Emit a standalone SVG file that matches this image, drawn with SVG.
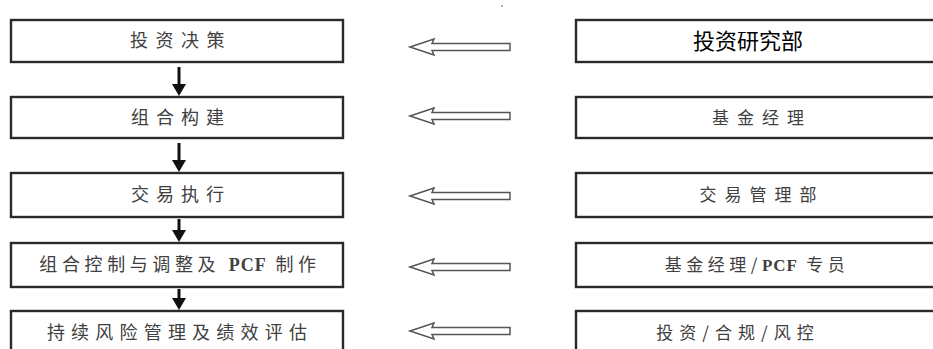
<svg xmlns="http://www.w3.org/2000/svg" width="933" height="349" viewBox="0 0 933 349">
<style>
.box{fill:#fff;stroke:#2a2a2a;stroke-width:2.4}
.lt{font-family:"Noto Sans CJK SC","Noto Sans",sans-serif;font-size:18px;fill:#404040;text-anchor:middle}
.rt{font-family:"Noto Sans CJK SC","Noto Sans",sans-serif;font-size:17px;fill:#404040;text-anchor:middle}
.big{font-size:22px;fill:#000}
.lat{font-family:"Liberation Serif",serif;font-weight:bold;letter-spacing:1px}
.hol{fill:#fff;stroke:#555;stroke-width:1.5;stroke-linejoin:miter}
.dn{stroke:#111;stroke-width:3}
.hd{fill:#111}
</style>
<rect width="933" height="349" fill="#fff"/>
<circle cx="502" cy="6" r="1" fill="#999"/>
<g id="n1"><rect class="box" x="11" y="20" width="332" height="42"/><text class="lt" x="181" y="47" letter-spacing="7.5">投资决策</text></g>
<g id="n2"><rect class="box" x="11" y="97" width="332" height="41"/><text class="lt" x="181" y="124" letter-spacing="7">组合构建</text></g>
<g id="n3"><rect class="box" x="11" y="173" width="332" height="44"/><text class="lt" x="181" y="201" letter-spacing="7">交易执行</text></g>
<g id="n4"><rect class="box" x="11" y="243" width="332" height="44"/><text class="lt" x="180" y="271" letter-spacing="4.6">组合控制与调整及 <tspan class="lat">PCF</tspan> 制作</text></g>
<g id="n5"><rect class="box" x="11" y="311" width="332" height="60"/><text class="lt" x="180" y="339" letter-spacing="6.2">持续风险管理及绩效评估</text></g>
<g id="r1"><rect class="box" x="576" y="20" width="380" height="42"/><text class="rt big" x="748" y="49">投资研究部</text></g>
<g id="r2"><rect class="box" x="576" y="97" width="380" height="41"/><text class="rt" x="762" y="124" letter-spacing="8">基金经理</text></g>
<g id="r3"><rect class="box" x="576" y="173" width="380" height="44"/><text class="rt" x="762" y="201" letter-spacing="8">交易管理部</text></g>
<g id="r4"><rect class="box" x="576" y="243" width="380" height="44"/><text class="rt" x="757" y="271" letter-spacing="4.5">基金经理/<tspan class="lat">PCF</tspan> 专员</text></g>
<g id="r5"><rect class="box" x="576" y="311" width="380" height="60"/><text class="rt" x="738" y="339" letter-spacing="6">投资/合规/风控</text></g>
<g id="connectors">
<line class="dn" x1="179" y1="67" x2="179" y2="85"/><polygon class="hd" points="172,84 186,84 179,96"/>
<line class="dn" x1="179" y1="143" x2="179" y2="161"/><polygon class="hd" points="172,160 186,160 179,172"/>
<line class="dn" x1="179" y1="219" x2="179" y2="231"/><polygon class="hd" points="172,230 186,230 179,242"/>
<line class="dn" x1="179" y1="289" x2="179" y2="299"/><polygon class="hd" points="172,298 186,298 179,310"/>
<polygon class="hol" points="410,47 434,39 432,43.5 510,43.5 510,50.5 432,50.5 434,55"/>
<polygon class="hol" points="410,116 434,108 432,112.5 510,112.5 510,119.5 432,119.5 434,124"/>
<polygon class="hol" points="410,196 434,188 432,192.5 510,192.5 510,199.5 432,199.5 434,204"/>
<polygon class="hol" points="410,267 434,259 432,263.5 510,263.5 510,270.5 432,270.5 434,275"/>
<polygon class="hol" points="410,331 434,323 432,327.5 510,327.5 510,334.5 432,334.5 434,339"/>
</g>
</svg>
